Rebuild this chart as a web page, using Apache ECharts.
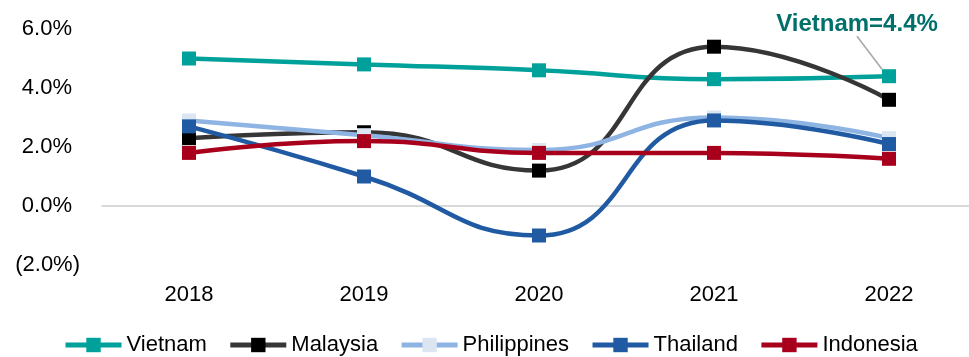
<!DOCTYPE html>
<html>
<head>
<meta charset="utf-8">
<script src="https://cdn.jsdelivr.net/npm/echarts@6/dist/echarts.min.js"></script>
<style>
  html, body { margin: 0; padding: 0; background: #fff; }
  #chart { width: 969px; height: 357px; }
</style>
</head>
<body>
<div id="chart"></div>
<script>
// GDP growth by country, 2018-2022 (%)
const years = ['2018', '2019', '2020', '2021', '2022'];
const vietnam = [5.0, 4.8, 4.6, 4.3, 4.4];
const malaysia = [2.3, 2.5, 1.2, 5.4, 3.6];
const philippines = [2.9, 2.4, 1.9, 3.0, 2.3];
const thailand = [2.7, 1.0, -1.0, 2.9, 2.1];
const indonesia = [1.8, 2.2, 1.8, 1.8, 1.6];
const yTicks = { min: -2, max: 6, step: 2 };
const calloutText = 'Vietnam=4.4%';

const FONT = "'Liberation Sans', Arial, sans-serif";

function fmtPct(v) {
  if (v < 0) return '{n|(' + Math.abs(v).toFixed(1) + '%)}';
  return '{p|' + v.toFixed(1) + '%}';
}

function makeSeries(name, data, lineColor, markerColor, extra) {
  return Object.assign({
    name: name,
    type: 'line',
    data: data,
    smooth: 0.5,
    symbol: 'rect',
    symbolSize: 14,
    showAllSymbol: true,
    lineStyle: { color: lineColor, width: 4.5 },
    itemStyle: { color: markerColor },
    emphasis: { disabled: true },
    animation: false
  }, extra || {});
}

// Callout for the latest Vietnam value, attached to its last point
const vietnamData = vietnam.map((v, i) => i === vietnam.length - 1 ? {
  value: v,
  label: {
    show: true,
    position: 'top',
    formatter: calloutText,
    fontFamily: FONT,
    fontWeight: 'bold',
    fontSize: 24,
    color: '#00706b'
  },
  labelLine: { show: true, lineStyle: { color: '#a6a6a6', width: 1.5 } }
} : v);

const chart = echarts.init(document.getElementById('chart'), null, { renderer: 'canvas' });
chart.setOption({
  animation: false,
  backgroundColor: '#ffffff',
  // plot area runs a little past the right edge of the canvas
  grid: {
    left: 101.5, width: 875, top: 29, bottom: 92,
    containLabel: false, outerBoundsMode: 'none'
  },
  legend: {
    left: 63,
    top: 334,
    padding: 0,
    itemWidth: 56,
    itemHeight: 18,
    itemGap: 21,
    lineStyle: { width: 5 },
    textStyle: { fontFamily: FONT, fontSize: 22, color: '#000' },
    data: ['Vietnam', 'Malaysia', 'Philippines', 'Thailand', 'Indonesia']
  },
  xAxis: {
    type: 'category',
    data: years,
    boundaryGap: true,
    axisLine: { show: false },
    axisTick: { show: false },
    axisLabel: { fontFamily: FONT, fontSize: 22, color: '#000', margin: 19 },
    splitLine: { show: false }
  },
  yAxis: {
    type: 'value',
    min: yTicks.min,
    max: yTicks.max,
    interval: yTicks.step,
    axisLine: { show: false },
    axisTick: { show: false },
    splitLine: { show: false },
    axisLabel: {
      margin: 21.5,
      formatter: fmtPct,
      rich: {
        p: { fontFamily: FONT, fontSize: 22, color: '#000', padding: [0, 8, 0, 0] },
        n: { fontFamily: FONT, fontSize: 22, color: '#000' }
      }
    }
  },
  series: [
    makeSeries('Vietnam', vietnamData, '#00a19a', '#00a19a', {
      labelLayout: { dx: -32, dy: -28 },
      markLine: {
        silent: true,
        symbol: ['none', 'none'],
        label: { show: false },
        lineStyle: { color: '#d9d9d9', width: 2, type: 'solid' },
        data: [{ yAxis: 0 }],
        z: 1
      }
    }),
    makeSeries('Malaysia', malaysia, '#363636', '#000000'),
    makeSeries('Philippines', philippines, '#8eb4e3', '#dce6f2'),
    makeSeries('Thailand', thailand, '#1f5aa2', '#1f5aa2'),
    makeSeries('Indonesia', indonesia, '#a8001c', '#a8001c')
  ]
});
</script>
</body>
</html>
